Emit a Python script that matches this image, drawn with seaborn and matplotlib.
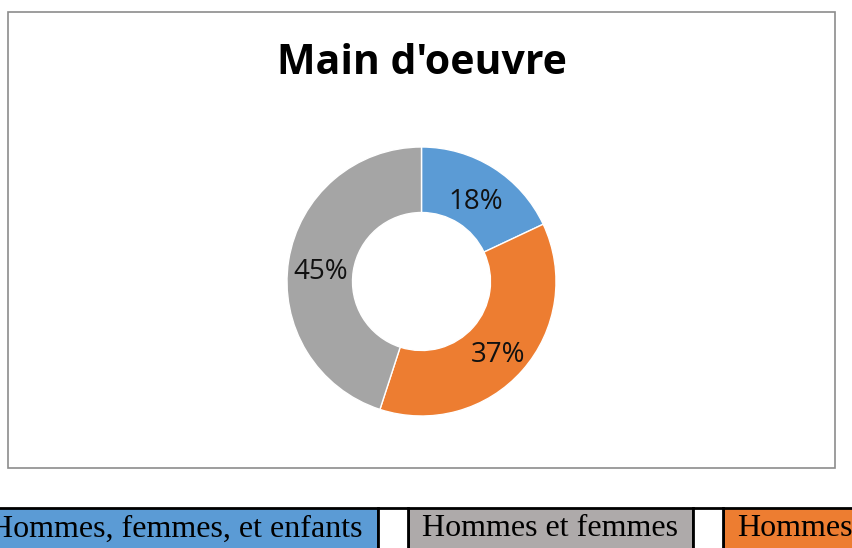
import matplotlib
matplotlib.use('Agg')
import matplotlib.pyplot as plt
import seaborn as sns
from matplotlib.patches import Rectangle
from matplotlib.transforms import offset_copy

sns.set_style('white')
plt.rcParams['font.family'] = ['Open Sans', 'DejaVu Sans']

# data
title = "Main d'oeuvre"
labels = ['Hommes, femmes, et enfants', 'Hommes', 'Hommes et femmes']
values = [18, 37, 45]
colors = ['#5b9bd5', '#ed7d31', '#a5a5a5']

# legend row order and colours (as in the table under the chart)
legend_labels = ['Hommes, femmes, et enfants', 'Hommes et femmes', 'Hommes']
legend_colors = ['#5b9bd5', '#aeaaaa', '#ed7d31']

W, H = 852, 548
fig = plt.figure(figsize=(W / 100, H / 100), dpi=100)

def fx(x):
    return x / W

def fy(y):
    return 1 - y / H

# chart frame
fig.patches.append(Rectangle((fx(8), fy(468)), fx(827), 456 / H, transform=fig.transFigure,
                             fill=False, edgecolor='#8c8c8c', linewidth=1.2))

# donut
cx, cy, R = 421.5, 281.5, 134.5
ax = fig.add_axes([fx(cx - R), fy(cy + R), 2 * R / W, 2 * R / H])
rin = 0.513
wedges, texts, autotexts = ax.pie(values, colors=colors, startangle=90, counterclock=False,
                                  radius=1, autopct='%1.0f%%', pctdistance=(1 + rin) / 2,
                                  wedgeprops=dict(width=1 - rin, edgecolor='white', linewidth=1),
                                  textprops=dict(fontsize=20, color='#111111'))
for t in autotexts:
    t.set_transform(offset_copy(t.get_transform(), fig=fig, x=0, y=-6, units='dots'))
ax.set_xlim(-1, 1)
ax.set_ylim(-1, 1)
ax.set_aspect('equal')
ax.axis('off')

fig.text(fx(421.5), fy(64), title, ha='center', va='center', fontsize=29.5, fontweight='bold',
         color='#000000')

# legend table at the bottom
serif = ['Liberation Serif', 'DejaVu Serif']
top = 508
cells = [(-30, 378), (408, 693), (723, 880)]
gaps = [(378, 408), (693, 723)]
for (x0, x1), col in zip(cells, legend_colors):
    fig.patches.append(Rectangle((fx(x0), -0.1), fx(x1 - x0), (H - top) / H + 0.1,
                                 transform=fig.transFigure,
                                 facecolor=col, edgecolor='black', linewidth=2))
for x0, x1 in gaps:
    fig.patches.append(Rectangle((fx(x0), -0.1), fx(x1 - x0), (H - top) / H + 0.1,
                                 transform=fig.transFigure,
                                 facecolor='white', edgecolor='black', linewidth=2))

fig.text(fx(363), fy(529), legend_labels[0], ha='right', va='center', fontsize=23, family=serif,
         color='black')
fig.text(fx(550), fy(529), legend_labels[1], ha='center', va='center', fontsize=23, family=serif,
         color='black')
fig.text(fx(737), fy(529), legend_labels[2], ha='left', va='center', fontsize=23, family=serif,
         color='black')

fig.savefig('out.png', dpi=100)
